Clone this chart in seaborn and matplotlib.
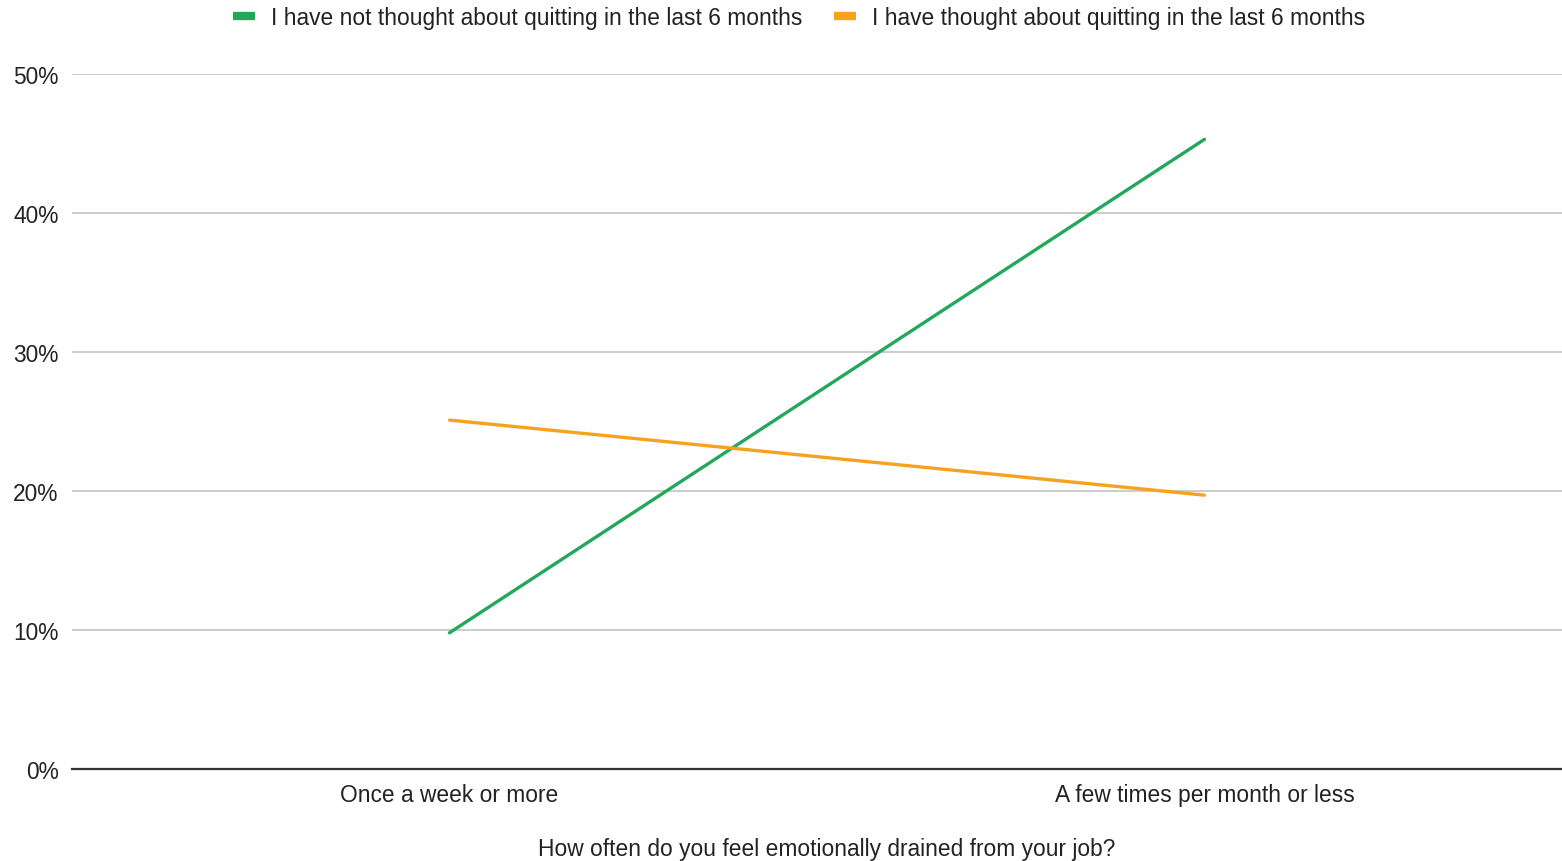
import matplotlib
matplotlib.use("Agg")
import matplotlib.pyplot as plt
import matplotlib.ticker as mtick
from matplotlib.lines import Line2D
import seaborn as sns
import pandas as pd

categories = ["Once a week or more", "A few times per month or less"]
series_names = [
    "I have not thought about quitting in the last 6 months",
    "I have thought about quitting in the last 6 months",
]
not_thought = [0.098, 0.453]
thought = [0.251, 0.197]
colors = ["#22a85a", "#f7a21b"]
y_ticks = [0.0, 0.1, 0.2, 0.3, 0.4, 0.5]
x_title = "How often do you feel emotionally drained from your job?"

df = pd.DataFrame({
    "freq": categories * 2,
    "share": not_thought + thought,
    "group": [series_names[0]] * 2 + [series_names[1]] * 2,
})

sns.set_theme(style="white")
plt.rcParams["font.family"] = ["Liberation Sans", "DejaVu Sans"]

FS = 16.4
fig = plt.figure(figsize=(15.62, 8.62), dpi=100)
ax = fig.add_axes([72 / 1562, 1 - 770 / 862, (1582 - 72) / 1562, (770 - 75) / 862])

sns.lineplot(data=df, x="freq", y="share", hue="group", hue_order=series_names,
             palette=colors, linewidth=2.4, legend=False, ax=ax, sort=False)

ax.set_xlim(-0.5, 1.5)
ax.set_ylim(0, 0.5)
ax.set_yticks(y_ticks)
ax.yaxis.set_major_formatter(mtick.PercentFormatter(1.0, decimals=0))
ax.grid(axis="y", color="#cccccc", linewidth=1.4)
ax.grid(axis="x", visible=False)
for s in ["top", "right", "left"]:
    ax.spines[s].set_visible(False)
ax.spines["bottom"].set_color("#333333")
ax.spines["bottom"].set_linewidth(1.6)
ax.set_axisbelow(True)
ax.tick_params(axis="both", length=0, labelsize=FS, colors="#222222")
ax.tick_params(axis="y", pad=9.8)
ax.tick_params(axis="x", pad=10)
ax.set_ylabel("")
ax.set_xlabel(x_title, fontsize=FS, color="#222222", labelpad=22.5)

handles = [Line2D([0], [0], color=c, linewidth=6, solid_capstyle="butt") for c in colors]
fig.legend(handles, series_names, loc="center", bbox_to_anchor=(799 / 1562, 1 - 18.5 / 862),
           ncol=2, frameon=False, fontsize=FS, handlelength=0.97, handletextpad=0.7,
           columnspacing=1.36, labelcolor="#222222")

fig.savefig("out.png", dpi=100)
